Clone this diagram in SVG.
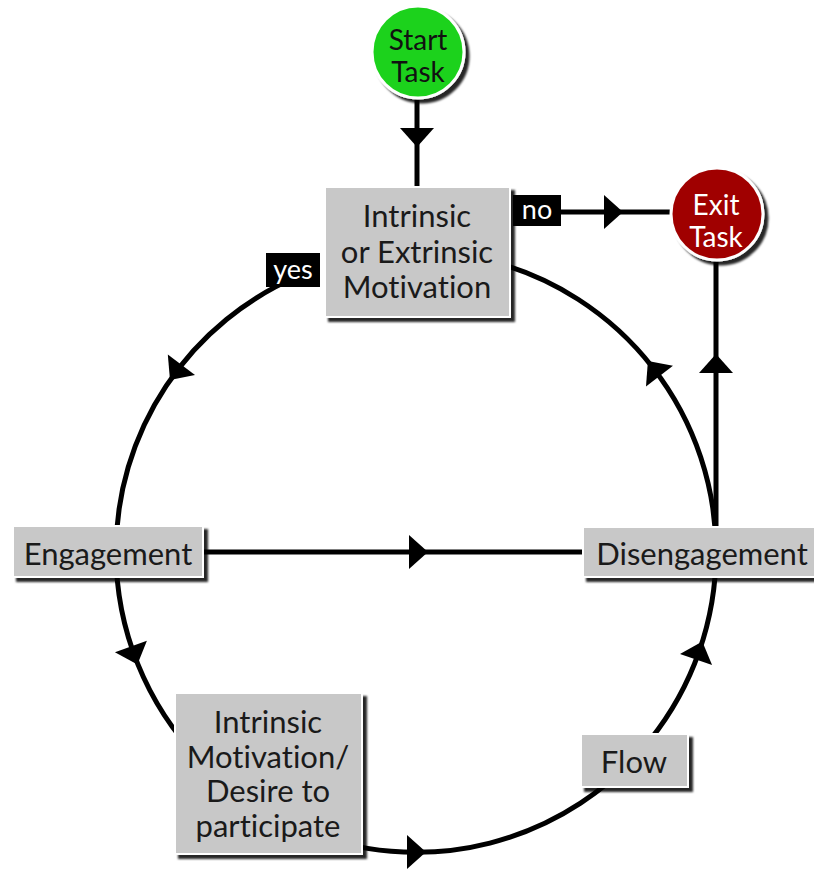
<svg xmlns="http://www.w3.org/2000/svg" width="814" height="873" viewBox="0 0 814 873">
<style>
.bg{fill:#ffffff}
.ln{fill:none;stroke:#000;stroke-width:5}
.ah{fill:#000}
.box{fill:#c8c8c8;stroke:#ffffff;stroke-width:2;filter:url(#sh)}
text{font-family:Lato,"Open Sans","DejaVu Sans",sans-serif;font-variant-ligatures:none;text-anchor:middle}
.t{font-size:31px;fill:#1a1a1a}
.ct{font-size:28px}
.lbl{fill:#000}
.lt{font-size:27px;fill:#fff}
</style>
<defs>
<filter id="sh" x="-10%" y="-10%" width="130%" height="130%">
<feDropShadow dx="4" dy="4" stdDeviation="1.2" flood-color="#000" flood-opacity="0.85"/>
</filter>
<polygon id="arr" points="-9,-17 10,0 -9,17"/>
</defs>
<rect class="bg" x="0" y="0" width="814" height="873"/>
<g id="connectors">
<line class="ln" x1="417" y1="98" x2="417" y2="190"/>
<use href="#arr" class="ah" transform="translate(417,137) rotate(90)"/>
<line class="ln" x1="540" y1="212" x2="672" y2="212"/>
<use href="#arr" class="ah" transform="translate(613,212)"/>
<line class="ln" x1="716" y1="530" x2="716" y2="258"/>
<use href="#arr" class="ah" transform="translate(716,364) rotate(-90)"/>
<line class="ln" x1="200" y1="552" x2="590" y2="552"/>
<use href="#arr" class="ah" transform="translate(418,552)"/>
<path class="ln" d="M300,275.3 A300,300 0 0 0 116,552"/>
<use href="#arr" class="ah" transform="translate(176,372) rotate(126.9)"/>
<path class="ln" d="M116,552 A300,300 0 0 0 200,760"/>
<use href="#arr" class="ah" transform="translate(134,655) rotate(70)"/>
<path class="ln" d="M300,829 A300,300 0 0 0 650,740"/>
<use href="#arr" class="ah" transform="translate(416,852)"/>
<path class="ln" d="M650,740 A300,300 0 0 0 716,552"/>
<use href="#arr" class="ah" transform="translate(699,651) rotate(-70.7)"/>
<path class="ln" d="M716,552 A300,300 0 0 0 490,261"/>
<use href="#arr" class="ah" transform="translate(654,369) rotate(-127.5)"/>
<g id="label-yes"><rect class="lbl" x="266" y="253" width="54" height="34"/><text class="lt" x="293" y="279">yes</text></g>
<g id="label-no"><rect class="lbl" x="513" y="195" width="48" height="31"/><text class="lt" x="537" y="219">no</text></g>
</g>
<g id="start">
<circle cx="418" cy="52" r="46" fill="#1ed21e" stroke="#fff" stroke-width="3" filter="url(#sh)"/>
<text class="ct" fill="#111" x="418" y="50">Start</text>
<text class="ct" fill="#111" x="418" y="82">Task</text>
</g>
<g id="exit">
<circle cx="717" cy="214" r="46" fill="#a00606" stroke="#fff" stroke-width="3" filter="url(#sh)"/>
<text class="ct" fill="#fff" x="716" y="215">Exit</text>
<text class="ct" fill="#fff" x="716" y="247">Task</text>
</g>
<g id="motivation">
<rect class="box" x="325" y="187" width="185" height="130"/>
<text class="t" x="417" y="227">Intrinsic</text>
<text class="t" x="417" y="263">or Extrinsic</text>
<text class="t" x="417" y="298">Motivation</text>
</g>
<g id="engagement">
<rect class="box" x="13" y="526" width="190" height="51"/>
<text class="t" x="108" y="565">Engagement</text>
</g>
<g id="disengagement">
<rect class="box" x="583" y="527" width="232" height="50"/>
<text class="t" x="702" y="565">Disengagement</text>
</g>
<g id="desire">
<rect class="box" x="175" y="693" width="187" height="161"/>
<text class="t" x="268" y="733">Intrinsic</text>
<text class="t" x="268" y="767.5">Motivation/</text>
<text class="t" x="268" y="802">Desire to</text>
<text class="t" x="268" y="836.5">participate</text>
</g>
<g id="flow">
<rect class="box" x="581" y="734" width="107" height="53"/>
<text class="t" x="634" y="773">Flow</text>
</g>
</svg>
